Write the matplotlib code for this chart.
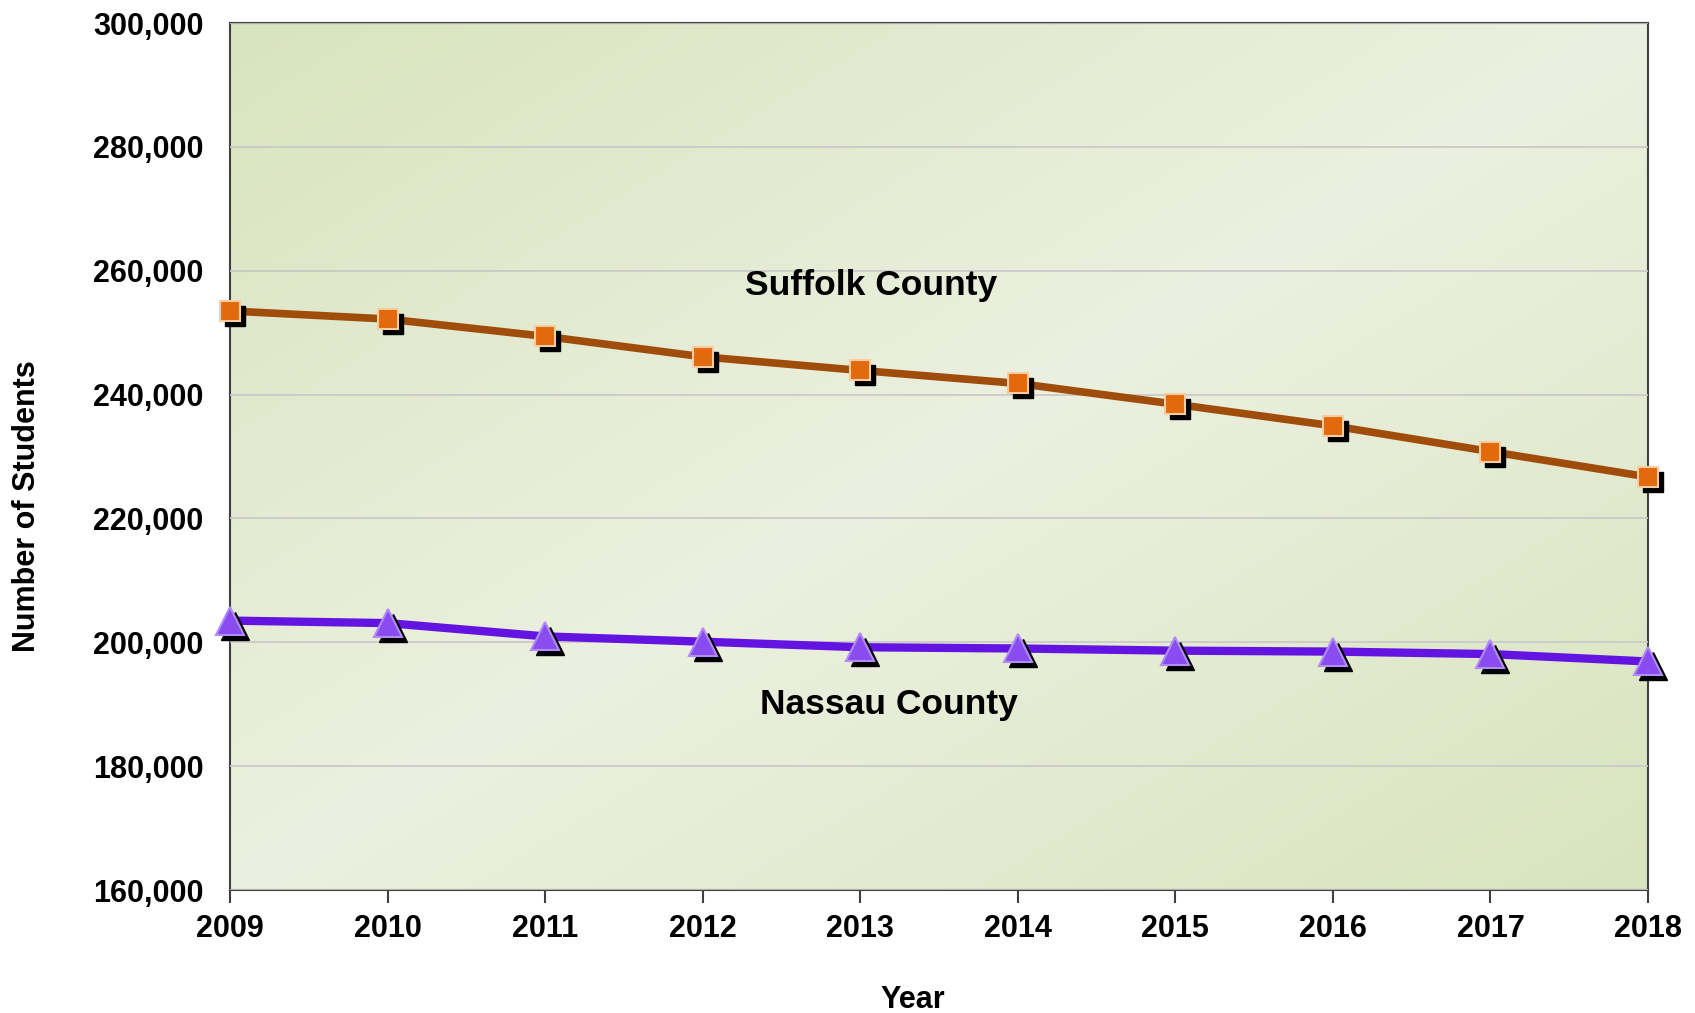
import numpy as np
import matplotlib
matplotlib.use("Agg")
import matplotlib.pyplot as plt
import matplotlib.transforms as mtransforms
from matplotlib.colors import LinearSegmentedColormap
from matplotlib.ticker import FuncFormatter

years = [2009, 2010, 2011, 2012, 2013, 2014, 2015, 2016, 2017, 2018]
suffolk = [253500, 252200, 249400, 246100, 243900, 241800, 238450, 234950, 230800, 226700]
nassau = [203500, 203100, 200950, 200100, 199200, 199000, 198650, 198500, 198100, 196900]
yticks = [160000, 180000, 200000, 220000, 240000, 260000, 280000, 300000]

plt.rcParams['font.family'] = ['Liberation Sans', 'DejaVu Sans']
plt.rcParams['font.weight'] = 'bold'

fig = plt.figure(figsize=(16.95, 10.13), dpi=100)
ax = fig.add_axes([230/1695, 1-890/1013, 1418/1695, 867/1013])

# gradient background
n = 300
xx, yy = np.meshgrid(np.linspace(0, 1, n), np.linspace(0, 1, n))
t = (xx + (1 - yy)) / 2.0  # 0 at top-left, 1 at bottom-right (origin lower)
g = 1 - np.abs(2 * t - 1)
cmap = LinearSegmentedColormap.from_list('bg', ['#d8e4be', '#ecf0e0'])
ax.imshow(g, cmap=cmap, extent=[0, 1, 0, 1], transform=ax.transAxes,
          origin='lower', aspect='auto', zorder=0, interpolation='bilinear')

ax.set_xlim(2009, 2018)
ax.set_ylim(160000, 300000)
ax.set_yticks(yticks)
ax.set_xticks(years)
ax.yaxis.set_major_formatter(FuncFormatter(lambda v, p: f"{int(v):,}"))
ax.grid(axis='y', color='#c8c8c8', linewidth=1.2, zorder=1)
ax.set_axisbelow(False)

for s in ax.spines.values():
    s.set_color('#404040')
    s.set_linewidth(1.5)
    s.set_zorder(2)

ax.tick_params(axis='y', length=0, pad=19, labelsize=22)
ax.tick_params(axis='x', length=9, width=1.5, color='#404040', direction='out',
               pad=8, labelsize=22)
for lab in ax.get_xticklabels() + ax.get_yticklabels():
    lab.set_fontweight('bold')

shadow = mtransforms.offset_copy(ax.transData, fig=fig, x=5, y=-5, units='dots')

# Suffolk
ax.plot(years, suffolk, color='#a04c0a', linewidth=5.5, zorder=3, clip_on=False,
        solid_capstyle='round')
ax.plot(years, suffolk, linestyle='none', marker='s', markersize=15,
        color='black', transform=shadow, zorder=4, clip_on=False)
ax.plot(years, suffolk, linestyle='none', marker='s', markersize=15,
        markerfacecolor='#e26a0c', markeredgecolor='#f9cca4', markeredgewidth=1.5,
        zorder=5, clip_on=False)

# Nassau
ax.plot(years, nassau, color='#6414e0', linewidth=6, zorder=3, clip_on=False,
        solid_capstyle='round')
ax.plot(years, nassau, linestyle='none', marker='^', markersize=20,
        color='black', transform=shadow, zorder=4, clip_on=False)
ax.plot(years, nassau, linestyle='none', marker='^', markersize=20,
        markerfacecolor='#8a4cf0', markeredgecolor='#b08cf4', markeredgewidth=1.5,
        zorder=5, clip_on=False)

ax.text(2013.07, 256100, 'Suffolk County', fontsize=25.5, fontweight='bold',
        ha='center', va='baseline', zorder=6)
ax.text(2013.18, 188460, 'Nassau County', fontsize=25.5, fontweight='bold',
        ha='center', va='baseline', zorder=6)

fig.text(27/1695, 1-506/1013, 'Number of Students', rotation=90, fontsize=22,
         fontweight='bold', ha='center', va='center')
fig.text(913/1695, 1-1008/1013, 'Year', fontsize=22, fontweight='bold',
         ha='center', va='baseline')

fig.savefig('out.png', dpi=100)
